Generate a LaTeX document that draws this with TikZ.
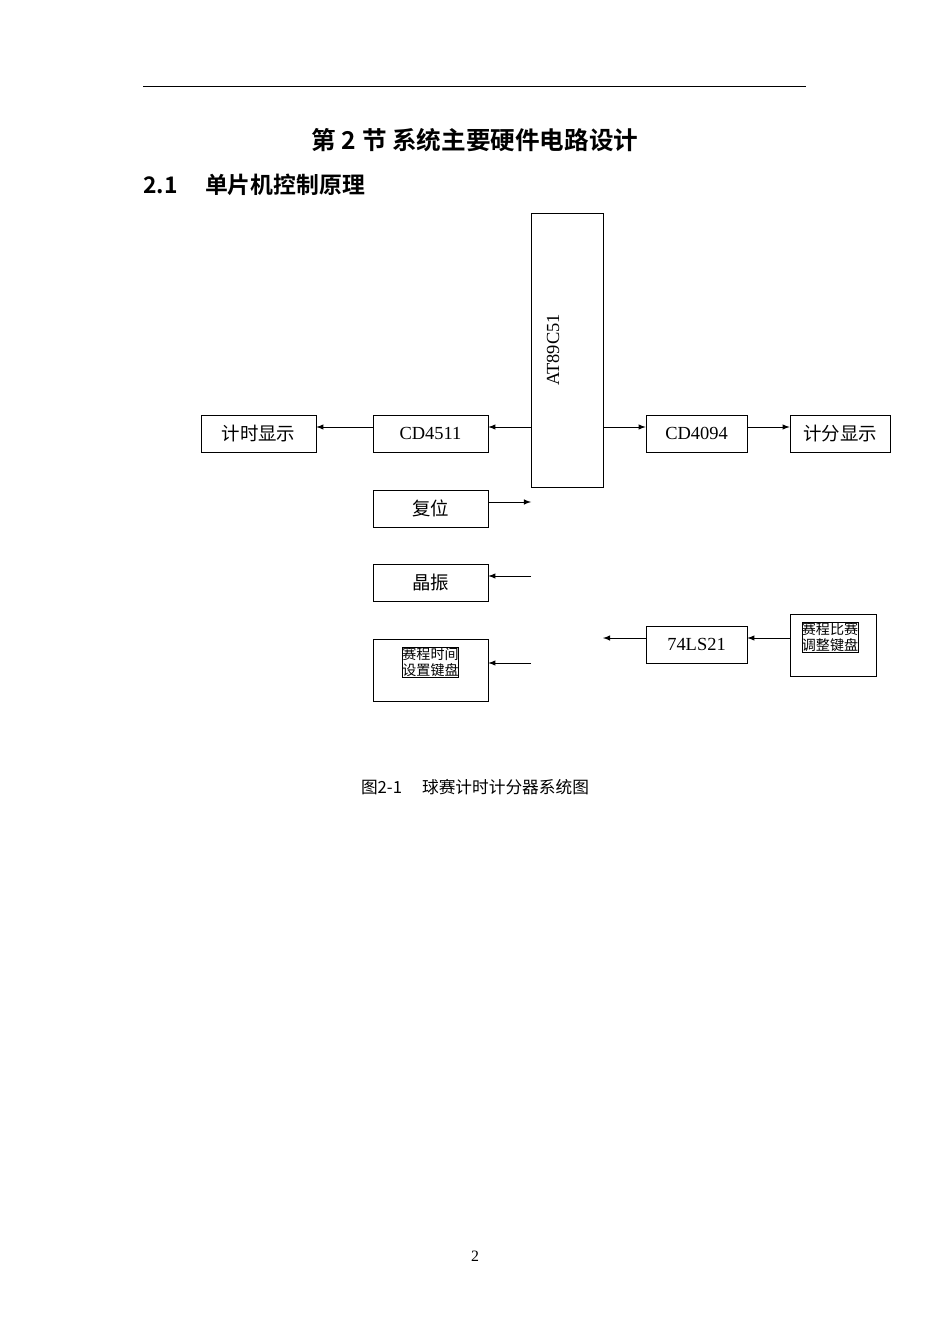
\documentclass[tikz,border=0pt]{standalone}
\usepackage{fontspec}
\setmainfont{Liberation Serif}
\newfontfamily\cjk{Noto Sans CJK SC}
\newfontfamily\cjkb{Noto Sans CJK SC Bold}
\usetikzlibrary{arrows}

\begin{document}
\begin{tikzpicture}[x=0.02cm,y=-0.02cm,>=latex,
	blk/.style={draw,inner sep=0pt,font=\fontsize{10.5}{12}\selectfont},
	sblk/.style={draw,inner sep=0pt,align=center,font=\cjk\fontsize{8}{9.5}\selectfont}]
	\useasboundingbox (0,0) rectangle (950,1344);
	\draw[thin] (143,86) -- (806,86);
	\node (title) at (475,140) {\cjkb\fontsize{14}{16}\selectfont 第 2 节 系统主要硬件电路设计};
	\node[anchor=west,inner sep=0pt] (sec) at (143,185) {\cjkb\fontsize{13}{15}\selectfont 2.1\hspace{1.2em}单片机控制原理};
	
	% boxes
	\node[blk,minimum width=1.44cm,minimum height=5.48cm] (mcu) at (567,350) {};
	\node[rotate=90,font=\fontsize{10.5}{12}\selectfont] (mcut) at (553,350) {AT89C51};
	\node[blk,minimum width=2.3cm,minimum height=0.74cm] (tdisp) at (258.5,433.5) {\cjk 计时显示};
	\node[blk,minimum width=2.3cm,minimum height=0.74cm] (cd4511) at (430.5,433.5) {CD4511};
	\node[blk,minimum width=2.02cm,minimum height=0.74cm] (cd4094) at (696.5,433.5) {CD4094};
	\node[blk,minimum width=2cm,minimum height=0.74cm] (sdisp) at (840,433.5) {\cjk 计分显示};
	\node[blk,minimum width=2.3cm,minimum height=0.74cm] (reset) at (430.5,508.5) {\cjk 复位};
	\node[blk,minimum width=2.3cm,minimum height=0.74cm] (osc) at (430.5,582.5) {\cjk 晶振};
	\node[blk,minimum width=2.3cm,minimum height=1.24cm] (tkey) at (430.5,670) {};
	\node[sblk] (tkeyt) at (430.5,662) {赛程时间\\设置键盘};
	\node[blk,minimum width=2.02cm,minimum height=0.74cm] (ls21) at (696.5,644.5) {74LS21};
	\node[blk,minimum width=1.72cm,minimum height=1.24cm] (skey) at (833,645) {};
	\node[sblk] (skeyt) at (830,637) {赛程比赛\\调整键盘};
	
	% free ends
	\coordinate (p1) at (531,502);
	\coordinate (p2) at (531,576);
	\coordinate (p3) at (531,663);
	\coordinate (p4) at (603,638);
	
	\draw[->] (cd4511.west |- 0,427) -- (tdisp.east |- 0,427);
	\draw[->] (mcu.west |- 0,427) -- (cd4511.east |- 0,427);
	\draw[->] (mcu.east |- 0,427) -- (cd4094.west |- 0,427);
	\draw[->] (cd4094.east |- 0,427) -- (sdisp.west |- 0,427);
	\draw[->] (reset.east |- p1) -- (p1);
	\draw[->] (p2) -- (osc.east |- p2);
	\draw[->] (p3) -- (tkey.east |- p3);
	\draw[->] (ls21.west |- p4) -- (p4);
	\draw[->] (skey.west |- p4) -- (ls21.east |- p4);
	
	\node (cap) at (475,787) {\cjk\fontsize{9.5}{11}\selectfont 图2-1\hspace{1.2em}球赛计时计分器系统图};
	\node (page) at (475,1256) {\fontsize{9}{10}\selectfont 2};
\end{tikzpicture}
\end{document}
